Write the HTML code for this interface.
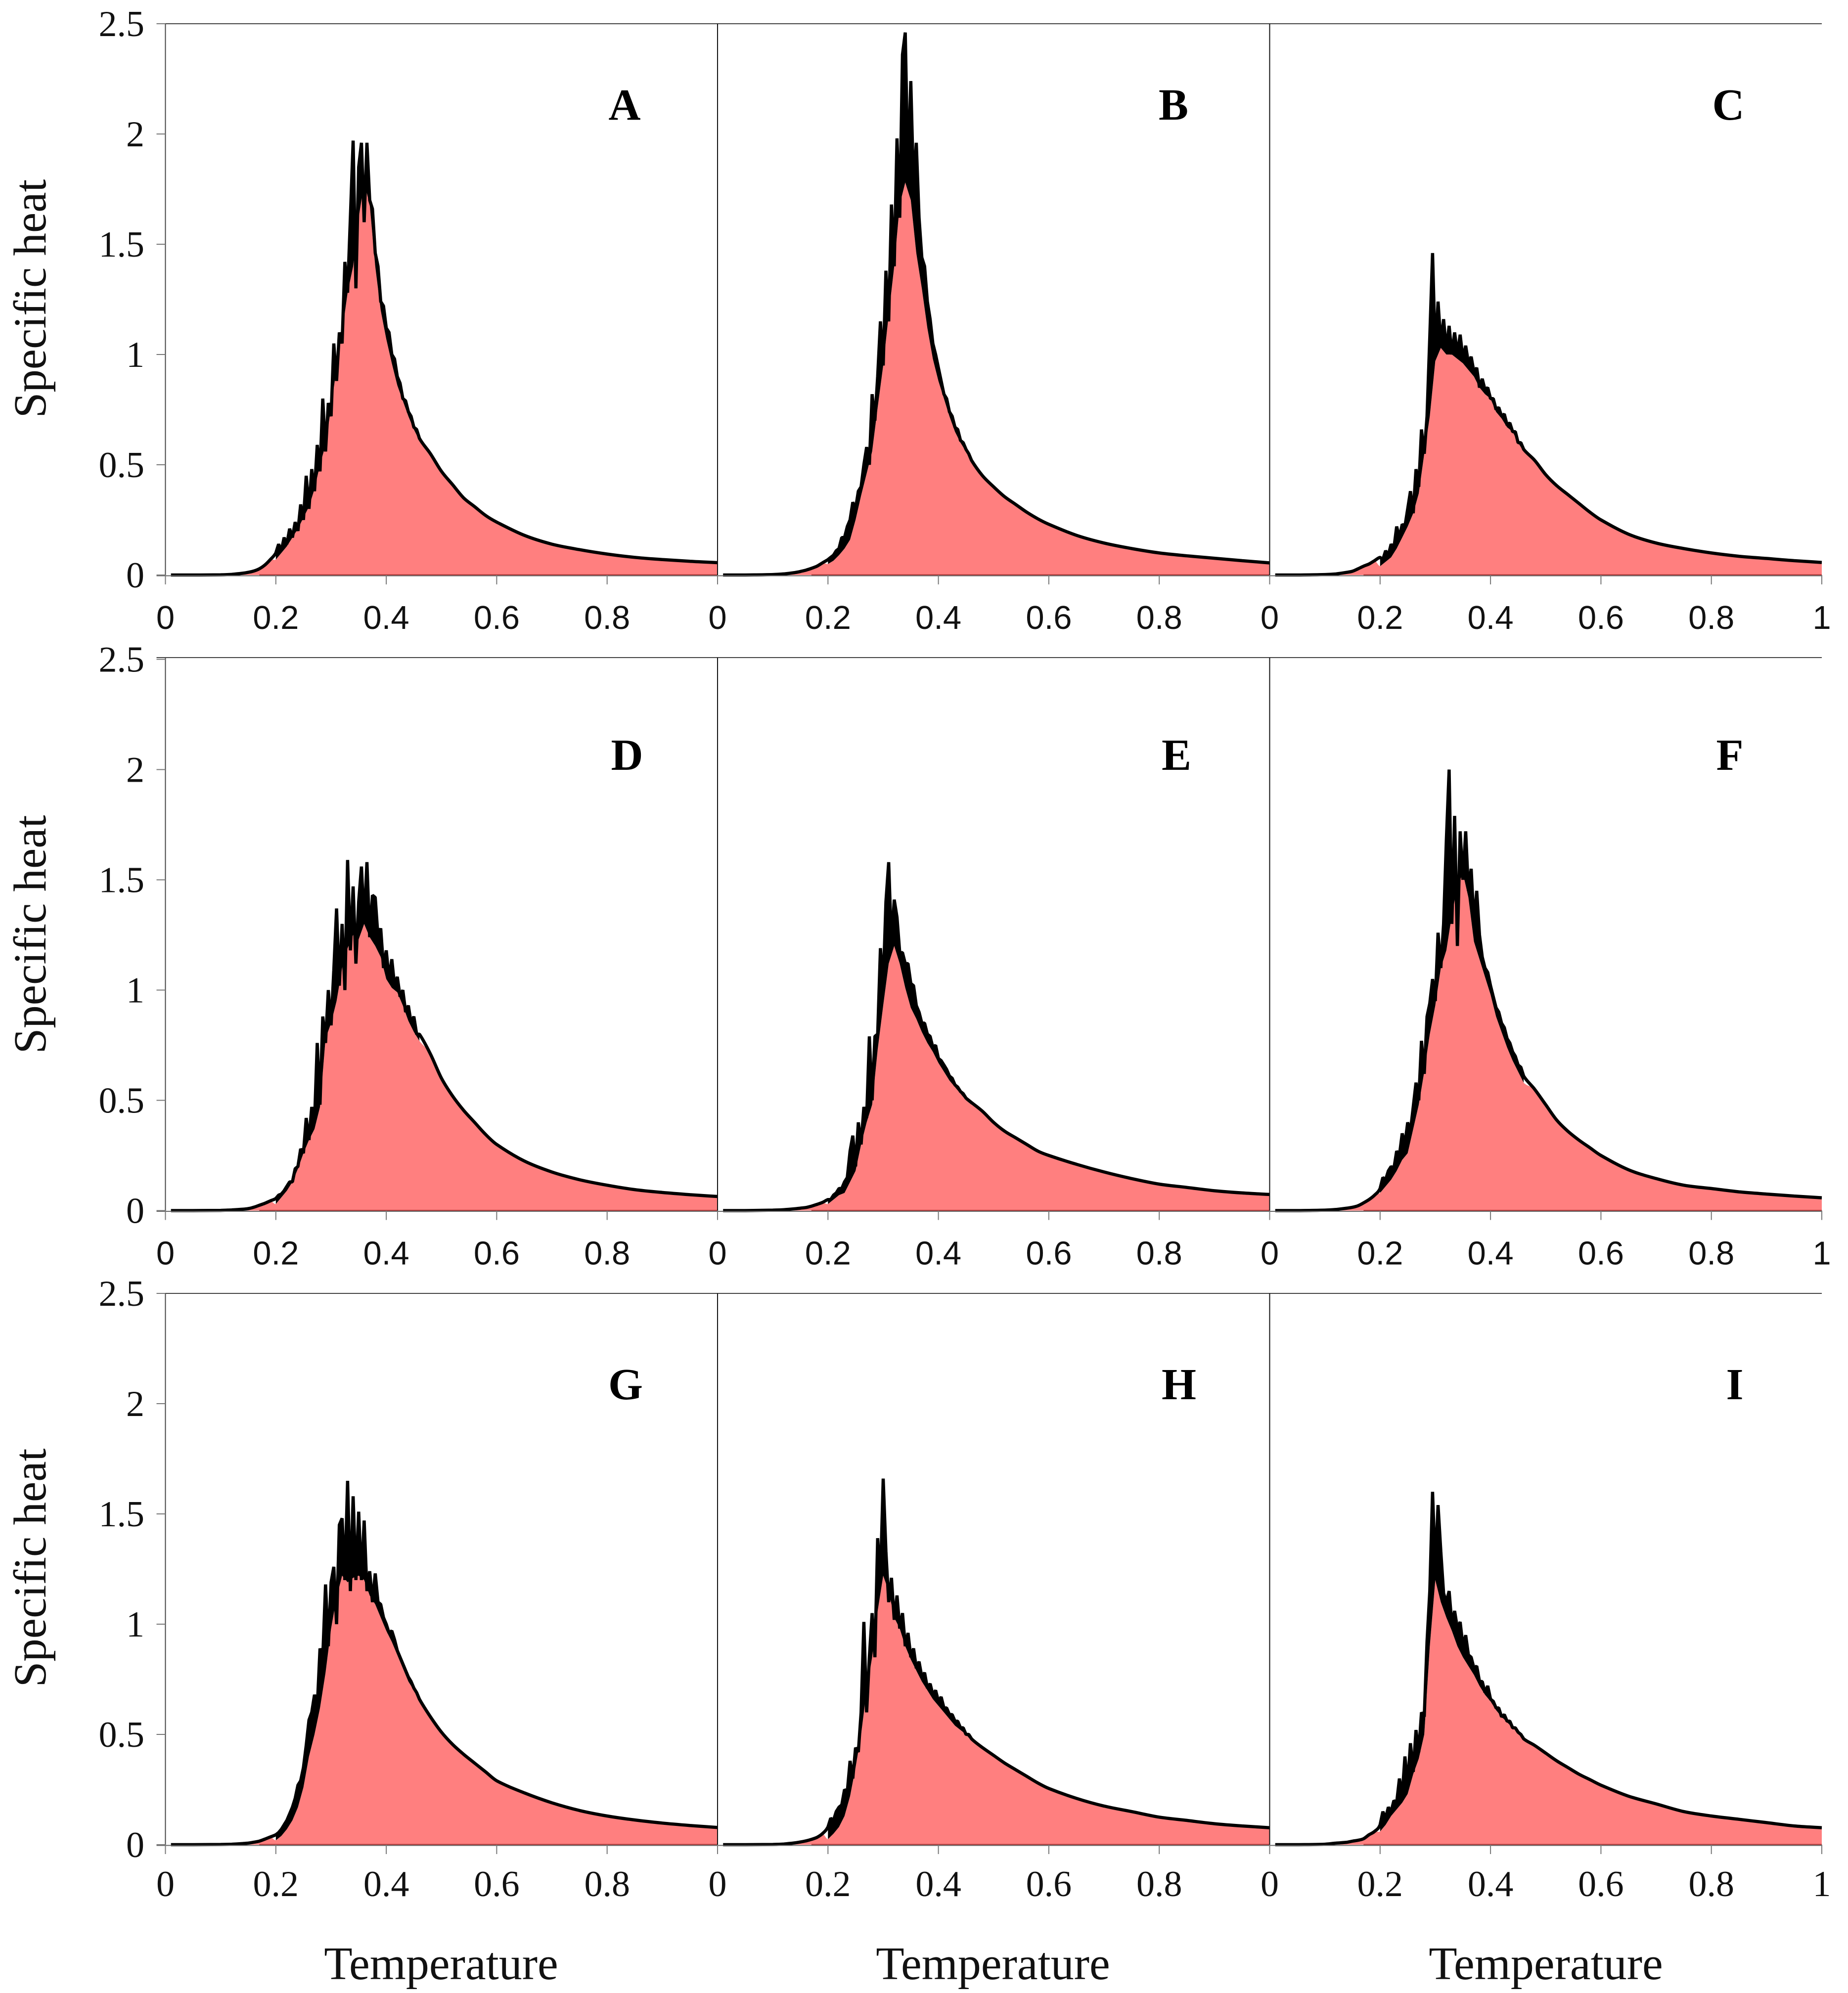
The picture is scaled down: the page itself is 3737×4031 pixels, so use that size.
<!DOCTYPE html>
<html lang="en">
<head>
<meta charset="utf-8">
<title>Specific heat versus temperature panels</title>
<style>
html,body{margin:0;padding:0;background:#fff}
svg{display:block}
.serif{font-family:"Liberation Serif",serif;fill:#000}
.title{font-size:93px;text-anchor:middle;fill:#111}
.wide{font-size:94px}
.letter{font-size:90px;font-weight:bold;text-anchor:middle}
</style>
</head>
<body>
<svg id="chart" xmlns="http://www.w3.org/2000/svg" width="3737" height="4031" viewBox="0 0 3737 4031">
  <rect x="0" y="0" width="3737" height="4031" fill="#ffffff"/>
  <g id="marks"></g>
  <text class="serif title" transform="translate(92 604) rotate(-90)">Specific heat</text>
  <text class="serif title" transform="translate(92 1890) rotate(-90)">Specific heat</text>
  <text class="serif title" transform="translate(92 3171) rotate(-90)">Specific heat</text>
  <text class="serif title wide" x="892" y="4003">Temperature</text>
  <text class="serif title wide" x="2008" y="4003">Temperature</text>
  <text class="serif title wide" x="3126" y="4003">Temperature</text>
  <text class="serif letter" x="1263" y="242">A</text>
  <text class="serif letter" x="2373" y="242">B</text>
  <text class="serif letter" x="3495" y="242">C</text>
  <text class="serif letter" x="1268" y="1557">D</text>
  <text class="serif letter" x="2379" y="1557">E</text>
  <text class="serif letter" x="3498" y="1557">F</text>
  <text class="serif letter" x="1265" y="2830">G</text>
  <text class="serif letter" x="2384" y="2830">H</text>
  <text class="serif letter" x="3508" y="2830">I</text>
</svg>
<script>
const lineTemps = [
  0.01,0.05,0.1,0.12,0.14,0.15,0.16,0.17,0.18,0.19,
  0.2,0.205,0.21,0.215,0.22,0.225,0.23,0.235,0.24,0.245,
  0.25,0.255,0.26,0.265,0.27,0.275,0.28,0.285,0.29,0.295,
  0.3,0.305,0.31,0.315,0.32,0.325,0.33,0.335,0.34,0.345,
  0.35,0.355,0.36,0.365,0.37,0.375,0.38,0.385,0.39,0.395,
  0.4,0.405,0.41,0.415,0.42,0.425,0.43,0.435,0.44,0.445,
  0.45,0.455,0.46,
  0.48,0.5,0.52,0.54,0.56,0.58,0.6,0.65,0.7,0.75,0.8,0.85,0.9,0.95,1
];
const fillTemps = [
  0.2,0.21,0.22,0.23,0.24,0.25,0.26,0.27,0.28,0.29,
  0.3,0.31,0.32,0.33,0.34,0.35,0.36,0.37,0.38,0.39,
  0.4,0.41,0.42,0.43,0.44,0.45,0.46
];
const xTicks = [0,0.2,0.4,0.6,0.8,1];
const xTickLabels = ['0','0.2','0.4','0.6','0.8','1'];
const yTicks = [0,0.5,1,1.5,2,2.5];
const yTickLabels = ['0','0.5','1','1.5','2','2.5'];
const panelNames = ['a','b','c','d','e','f','g','h','i'];

const lineA = [0,0,.001,.003,.008,.012,.018,.028,.045,.07,
  .10,.14,.11,.17,.14,.21,.17,.24,.20,.32,
  .25,.45,.30,.48,.38,.59,.47,.80,.56,.78,
  .72,1.05,.88,1.10,1.05,1.42,1.28,1.62,1.97,1.30,
  1.85,1.96,1.60,1.96,1.70,1.66,1.46,1.40,1.24,1.22,
  1.12,1.10,1.00,.98,.90,.87,.80,.79,.74,.72,
  .67,.66,.62,
  .55,.47,.41,.35,.31,.27,.24,.18,.14,.115,.095,.08,.07,.062,.056];
const fillA = [.07,.10,.13,.17,.21,.26,.31,.39,.50,.59,.76,.94,1.10,1.28,1.40,1.62,1.78,1.68,1.40,1.20,1.07,.96,.86,.79,.72,.66,.61];

const lineB = [0,0,.002,.005,.011,.016,.022,.03,.04,.055,
  .07,.08,.09,.11,.12,.17,.17,.22,.25,.33,
  .30,.38,.40,.50,.58,.50,.82,.70,.90,1.15,
  .95,1.38,1.15,1.68,1.40,1.98,1.62,2.36,2.46,1.80,
  2.24,1.75,1.96,1.62,1.44,1.40,1.24,1.16,1.05,1.00,
  .94,.88,.82,.80,.74,.72,.67,.66,.61,.60,
  .57,.55,.52,
  .45,.40,.355,.32,.285,.255,.23,.18,.145,.12,.10,.087,.076,.065,.055];
const fillB = [.05,.065,.09,.12,.16,.25,.36,.46,.56,.76,.95,1.18,1.40,1.68,1.78,1.70,1.46,1.30,1.12,.98,.88,.80,.72,.65,.60,.56,.52];

const lineC = [0,0,.002,.005,.012,.017,.028,.04,.05,.065,
  .08,.07,.11,.09,.14,.12,.22,.17,.23,.22,
  .30,.38,.28,.48,.40,.66,.55,.72,1.08,1.46,
  1.00,1.24,1.05,1.16,1.02,1.13,1.00,1.10,1.00,1.09,
  .98,1.04,.96,.99,.92,.94,.85,.89,.84,.85,
  .80,.80,.75,.76,.72,.73,.68,.69,.65,.65,
  .60,.60,.57,
  .52,.455,.405,.365,.325,.285,.25,.185,.145,.12,.10,.085,.075,.065,.057];
const fillC = [.04,.06,.08,.12,.17,.22,.28,.37,.55,.72,.97,1.03,1.0,1.0,.98,.96,.93,.90,.85,.82,.80,.74,.71,.67,.65,.60,.56];

const lineD = [0,0,.001,.003,.006,.009,.015,.024,.033,.044,
  .055,.07,.075,.09,.11,.13,.13,.19,.20,.28,
  .26,.42,.32,.47,.40,.76,.48,.88,.76,1.0,
  .84,1.09,1.37,1.02,1.30,1.0,1.59,1.18,1.47,1.12,
  1.40,1.56,1.30,1.58,1.24,1.43,1.42,1.24,1.28,1.10,
  1.18,1.05,1.14,1.02,1.06,.97,1.0,.90,.93,.85,
  .88,.80,.80,
  .71,.60,.52,.455,.40,.345,.30,.225,.175,.14,.115,.095,.082,.072,.064];
const fillD = [.03,.06,.09,.13,.19,.26,.32,.37,.47,.78,.85,.95,1.10,1.19,1.25,1.23,1.30,1.24,1.20,1.15,1.05,1.01,.99,.93,.86,.81,.77];

const lineE = [0,0,.002,.004,.008,.011,.014,.02,.028,.037,
  .05,.05,.07,.08,.10,.10,.13,.15,.27,.34,
  .20,.40,.30,.47,.42,.79,.50,.79,.80,1.19,
  1.02,1.40,1.58,1.20,1.41,1.33,1.17,1.17,1.12,1.12,
  1.03,1.02,.93,.90,.85,.85,.80,.79,.74,.75,
  .69,.68,.66,.64,.61,.60,.57,.56,.54,.53,
  .51,.50,.49,
  .45,.40,.36,.33,.30,.27,.25,.21,.175,.145,.12,.105,.09,.08,.073];
const fillE = [.03,.05,.07,.08,.13,.18,.30,.40,.48,.73,.93,1.12,1.20,1.12,1.01,.92,.87,.81,.76,.72,.67,.63,.59,.56,.53,.50,.48];

const lineF = [0,0,.002,.005,.011,.015,.022,.035,.05,.07,
  .10,.15,.14,.18,.20,.19,.27,.25,.35,.30,
  .40,.36,.47,.58,.50,.77,.62,.88,.94,1.05,
  .95,1.26,1.10,1.30,1.68,2.0,1.30,1.79,1.20,1.72,
  1.50,1.72,1.45,1.55,1.30,1.45,1.25,1.15,1.10,1.08,
  1.02,.97,.92,.90,.85,.83,.78,.76,.72,.70,
  .66,.65,.61,
  .55,.48,.41,.36,.32,.285,.25,.185,.145,.115,.10,.085,.075,.066,.058];
const fillF = [.08,.11,.14,.18,.23,.26,.37,.48,.63,.80,.93,1.10,1.18,1.34,1.47,1.53,1.42,1.22,1.14,1.06,.98,.88,.81,.74,.68,.63,.58];

const lineG = [0,0,.001,.002,.005,.007,.011,.016,.025,.035,
  .045,.055,.07,.09,.11,.14,.17,.21,.27,.29,
  .35,.45,.565,.60,.68,.62,.89,.85,1.18,.90,
  1.19,1.26,1.0,1.45,1.48,1.2,1.65,1.15,1.58,1.2,
  1.51,1.20,1.47,1.15,1.24,1.10,1.23,1.10,1.09,1.03,
  1.0,.96,.97,.93,.88,.85,.82,.79,.76,.74,
  .71,.69,.66,
  .58,.51,.455,.41,.37,.33,.29,.235,.19,.155,.13,.112,.098,.087,.078];
const fillG = [.02,.04,.07,.11,.17,.26,.40,.50,.62,.78,.98,1.12,1.22,1.19,1.21,1.22,1.2,1.13,1.09,1.03,.97,.92,.86,.80,.74,.70,.65];

const lineH = [0,0,.001,.003,.008,.012,.017,.024,.033,.05,
  .08,.12,.11,.15,.17,.18,.25,.24,.38,.30,
  .44,.42,.60,1.01,.60,.85,1.05,.85,1.39,1.20,
  1.66,1.33,1.10,1.21,1.02,1.13,.98,1.05,.90,.96,
  .85,.89,.80,.83,.76,.78,.71,.73,.68,.70,
  .65,.67,.62,.62,.59,.59,.56,.56,.53,.53,
  .50,.50,.48,
  .44,.405,.37,.34,.31,.28,.255,.21,.175,.15,.125,.11,.095,.085,.077];
const fillH = [.025,.05,.08,.13,.22,.35,.50,.70,.85,1.06,1.22,1.15,1.03,.98,.90,.84,.79,.74,.70,.66,.63,.60,.57,.54,.52,.50,.47];

const lineI = [0,0,.002,.007,.011,.016,.02,.027,.045,.06,
  .09,.15,.12,.17,.15,.20,.19,.30,.22,.40,
  .27,.46,.33,.52,.42,.60,.58,.92,1.15,1.60,
  1.25,1.54,1.33,1.14,1.10,1.15,1.00,1.06,.98,1.01,
  .90,.95,.86,.85,.80,.81,.74,.74,.69,.72,
  .66,.65,.62,.62,.58,.59,.56,.56,.53,.53,
  .51,.50,.48,
  .45,.415,.38,.35,.32,.295,.27,.22,.185,.15,.13,.115,.10,.085,.077];
const fillI = [.06,.09,.13,.16,.19,.23,.32,.39,.50,.90,1.20,1.10,1.03,.97,.90,.85,.81,.77,.72,.68,.65,.61,.58,.555,.53,.51,.48];

const panelLines = [lineA,lineB,lineC,lineD,lineE,lineF,lineG,lineH,lineI];
const panelFills = [fillA,fillB,fillC,fillD,fillE,fillF,fillG,fillH,fillI];

const SVG_NS = 'http://www.w3.org/2000/svg';
const root = document.getElementById('marks');
const plotLeft = 334.5;
const plotWidth = 1116.5;
const plotTops = [48, 1330, 2616];
const plotZeros = [1163, 2448.5, 3731];
const unitHeight = 446;

function xScale(col, t) { return plotLeft + col * plotWidth + t * plotWidth; }
function yScale(row, v) { return plotZeros[row] - v * unitHeight; }
function make(tag, attrs, parent) {
  const node = document.createElementNS(SVG_NS, tag);
  for (const k in attrs) node.setAttribute(k, attrs[k]);
  parent.appendChild(node);
  return node;
}
/* Path through [t, value] pairs: straight in the noisy region, Hermite-smoothed on the quiet rise and tail. */
function curveSegments(pts, col, row) {
  const px = pts.map(function (p) { return [xScale(col, p[0]), yScale(row, p[1])]; });
  function slope(i) {
    const a = px[Math.max(0, i - 1)];
    const b = px[Math.min(px.length - 1, i + 1)];
    return (b[1] - a[1]) / (b[0] - a[0]);
  }
  let d = '';
  for (let i = 0; i + 1 < px.length; i++) {
    const quiet = pts[i + 1][0] <= fillTemps[0] || pts[i][0] >= fillTemps[fillTemps.length - 1];
    const h = px[i + 1][0] - px[i][0];
    if (quiet) {
      d += 'C' + (px[i][0] + h / 3).toFixed(1) + ' ' + (px[i][1] + slope(i) * h / 3).toFixed(1) + ' ' +
           (px[i + 1][0] - h / 3).toFixed(1) + ' ' + (px[i + 1][1] - slope(i + 1) * h / 3).toFixed(1) + ' ' +
           px[i + 1][0].toFixed(1) + ' ' + px[i + 1][1].toFixed(1);
    } else {
      d += 'L' + px[i + 1][0].toFixed(1) + ' ' + px[i + 1][1].toFixed(1);
    }
  }
  return d;
}

for (let p = 0; p < panelNames.length; p++) {
  const row = Math.floor(p / 3);
  const col = p % 3;
  const values = panelLines[p];
  const lower = panelFills[p];
  const firstFill = fillTemps[0];
  const lastFill = fillTemps[fillTemps.length - 1];

  const g = make('g', {}, root);
  
  

  const areaPts = [];
  for (let i = 0; i < lineTemps.length; i++) {
    if (lineTemps[i] < firstFill) areaPts.push([lineTemps[i], values[i]]);
  }
  for (let i = 0; i < fillTemps.length; i++) areaPts.push([fillTemps[i], lower[i]]);
  for (let i = 0; i < lineTemps.length; i++) {
    if (lineTemps[i] > lastFill) areaPts.push([lineTemps[i], values[i]]);
  }
  const areaD = 'M' + xScale(col, areaPts[0][0]) + ' ' + yScale(row, 0) +
    'L' + xScale(col, areaPts[0][0]) + ' ' + yScale(row, areaPts[0][1]) +
    curveSegments(areaPts, col, row) +
    'L' + xScale(col, 1) + ' ' + yScale(row, 0) + 'Z';
  const area = make('path', {d: areaD, fill: '#ff7f7f'}, g);
  
  

  const baseTint = make('line', {x1: xScale(col, 0.17), x2: xScale(col, 1), y1: yScale(row, 0) - 0.5, y2: yScale(row, 0) - 0.5, stroke: '#b53c3c', 'stroke-width': 2}, g);
  
  

  let bandD = '';
  for (let i = 0; i < lineTemps.length; i++) {
    if (lineTemps[i] >= firstFill && lineTemps[i] <= lastFill) {
      bandD += (bandD ? 'L' : 'M') + xScale(col, lineTemps[i]).toFixed(1) + ' ' + yScale(row, values[i]).toFixed(1);
    }
  }
  for (let i = fillTemps.length - 1; i >= 0; i--) {
    bandD += 'L' + xScale(col, fillTemps[i]).toFixed(1) + ' ' + yScale(row, lower[i]).toFixed(1);
  }
  const band = make('path', {d: bandD + 'Z', fill: '#000'}, g);
  
  

  const linePts = lineTemps.map(function (t, i) { return [t, values[i]]; });
  const lineD_ = 'M' + xScale(col, linePts[0][0]).toFixed(1) + ' ' + yScale(row, linePts[0][1]).toFixed(1) + curveSegments(linePts, col, row);
  const trace = make('path', {d: lineD_, fill: 'none', stroke: '#000', 'stroke-width': 6.5, 'stroke-linejoin': 'bevel'}, g);
  
  
}

for (let row = 0; row < 3; row++) {
  const top = make('line', {x1: plotLeft - 18, x2: xScale(2, 1), y1: plotTops[row], y2: plotTops[row], stroke: '#444', 'stroke-width': 2}, root);
  
  

  const base = make('line', {x1: plotLeft - 18, x2: xScale(2, 1), y1: plotZeros[row] + 1.5, y2: plotZeros[row] + 1.5, stroke: '#666', 'stroke-width': 2}, root);
  
  

  for (let col = 0; col < 3; col++) {
    const axis = make('line', {x1: xScale(col, 0), x2: xScale(col, 0), y1: plotTops[row], y2: plotZeros[row], stroke: col ? '#111' : '#444', 'stroke-width': 2}, root);
    
    

    for (let i = 0; i < xTicks.length; i++) {
      const tick = make('line', {x1: xScale(col, xTicks[i]), x2: xScale(col, xTicks[i]), y1: plotZeros[row], y2: plotZeros[row] + 19, stroke: '#777', 'stroke-width': 2}, root);
      
      

      if (i === xTicks.length - 1 && col < 2) continue;
      const serifRow = row === 2;
      const label = make('text', {
        x: xScale(col, xTicks[i]),
        y: serifRow ? 3835 : plotZeros[row] + 109,
        'text-anchor': 'middle',
        'font-size': serifRow ? 74 : 67,
        'font-family': serifRow ? '"Liberation Serif", serif' : '"Liberation Sans", sans-serif',
        fill: '#111'
      }, root);
      label.textContent = xTickLabels[i];
      
      
    }
  }

  for (let i = 0; i < yTicks.length; i++) {
    const tick = make('line', {x1: plotLeft - 18, x2: plotLeft, y1: yScale(row, yTicks[i]), y2: yScale(row, yTicks[i]), stroke: '#777', 'stroke-width': 2}, root);
    
    

    const label = make('text', {
      x: 292,
      y: yScale(row, yTicks[i]) + 25,
      'text-anchor': 'end',
      'font-size': 74,
      'font-family': '"Liberation Serif", serif',
      fill: '#111'
    }, root);
    label.textContent = yTickLabels[i];
    
    
  }
}
</script>
</body>
</html>
